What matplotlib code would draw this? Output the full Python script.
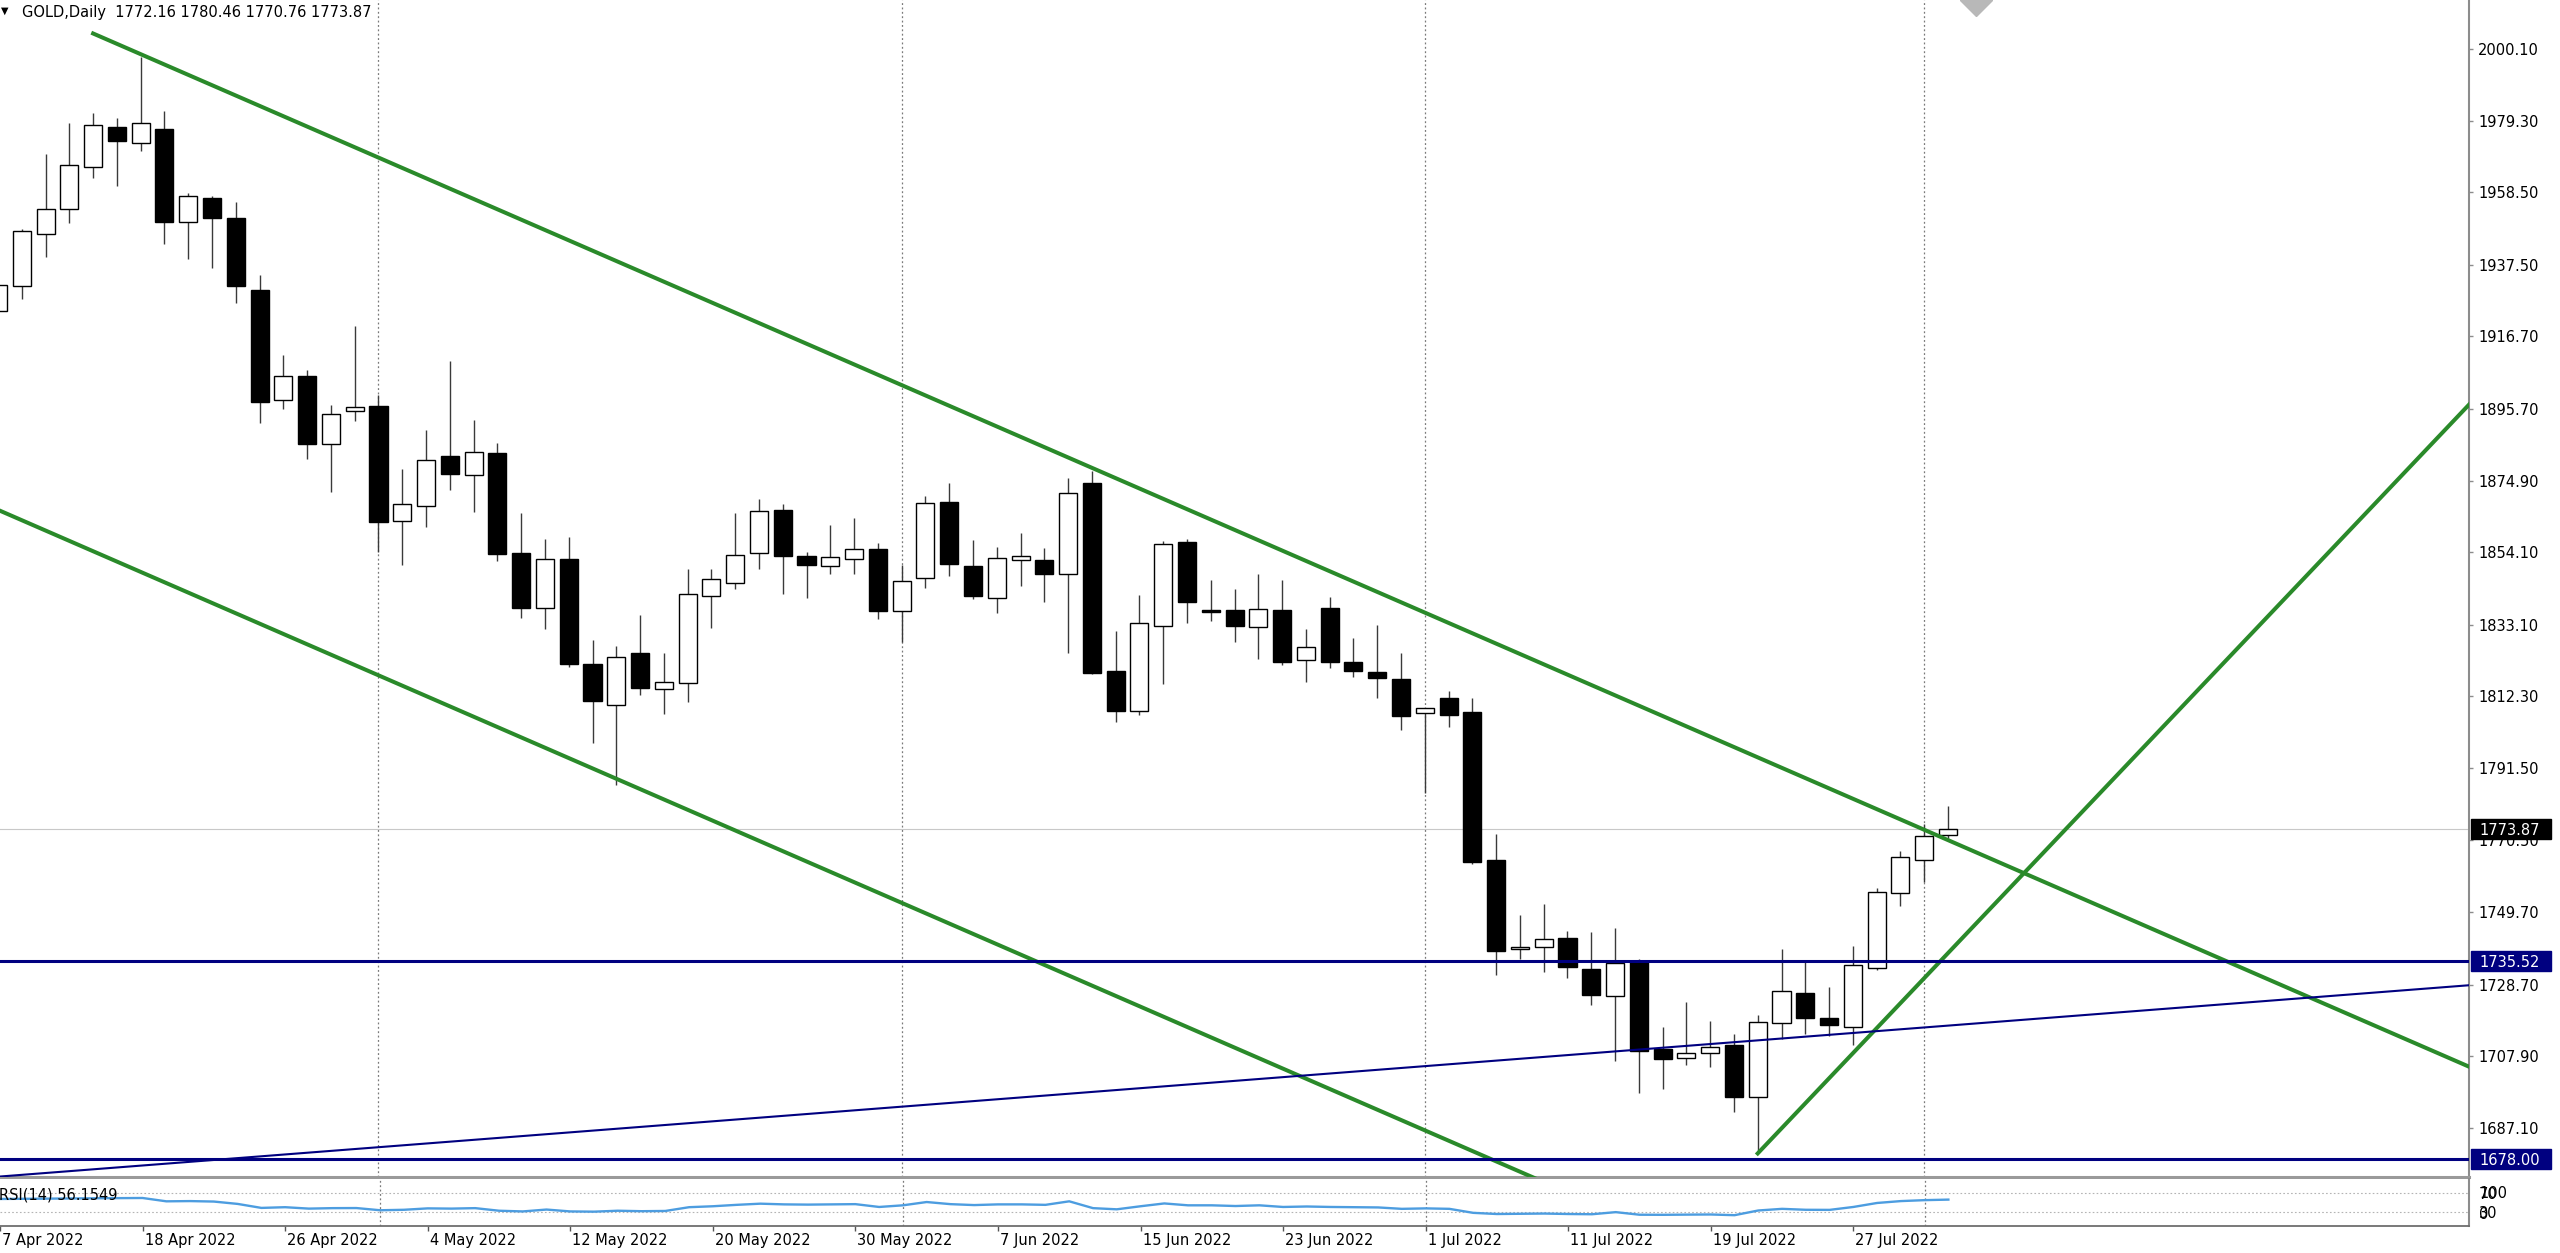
"""Daily GOLD candlestick chart with trend lines and an RSI(14) strip,
drawn to look like a MetaTrader 4 chart window."""

import matplotlib

matplotlib.use("Agg")
import matplotlib.pyplot as plt
import matplotlib.transforms as mtransforms
import numpy as np
import pandas as pd
from matplotlib.patches import Rectangle


SYMBOL = "GOLD"
PERIOD = "Daily"

# Trading days on the chart (weekdays, no bar on Good Friday).
DATES = pd.bdate_range("2022-04-07", "2022-08-02").drop(pd.Timestamp("2022-04-15"))

OPENS = [
    1924.2, 1931.4, 1946.4, 1953.6, 1965.8, 1977.4, 1972.8, 1977.0, 1950.0, 1957.0,
    1951.1, 1930.3, 1898.2, 1905.1, 1885.4, 1895.1, 1896.6, 1863.1, 1867.5, 1882.1,
    1876.5, 1883.0, 1853.8, 1838.0, 1852.2, 1821.7, 1809.8, 1824.8, 1814.4, 1816.3,
    1841.5, 1845.3, 1853.8, 1866.4, 1853.1, 1850.2, 1852.1, 1855.0, 1837.1, 1846.5,
    1868.8, 1850.1, 1840.7, 1852.0, 1852.0, 1847.7, 1874.1, 1819.7, 1808.0, 1832.8,
    1857.2, 1837.4, 1837.4, 1832.5, 1837.4, 1822.8, 1838.0, 1822.3, 1819.5, 1817.3,
    1807.4, 1811.7, 1807.7, 1764.8, 1738.9, 1739.7, 1742.1, 1733.1, 1725.4, 1735.3,
    1709.9, 1707.3, 1708.9, 1711.2, 1696.2, 1717.4, 1726.1, 1718.9, 1716.3, 1733.4,
    1755.3, 1764.8, 1772.16,
]
HIGHS = [
    1936.0, 1948.0, 1969.5, 1978.6, 1981.4, 1980.2, 1997.8, 1982.0, 1958.3, 1957.5,
    1955.6, 1934.5, 1911.2, 1907.1, 1896.7, 1919.7, 1899.6, 1878.2, 1889.6, 1909.6,
    1892.5, 1885.7, 1865.4, 1858.0, 1858.6, 1828.6, 1826.9, 1835.9, 1824.8, 1849.2,
    1849.2, 1865.4, 1869.5, 1868.1, 1854.3, 1862.0, 1863.9, 1856.9, 1850.4, 1870.4,
    1874.1, 1857.7, 1855.5, 1859.6, 1855.2, 1875.7, 1877.7, 1831.4, 1841.7, 1857.5,
    1858.0, 1846.1, 1843.3, 1847.7, 1846.1, 1831.7, 1841.0, 1829.3, 1833.0, 1825.0,
    1809.0, 1813.9, 1811.9, 1772.5, 1748.9, 1752.1, 1744.2, 1744.0, 1745.2, 1736.0,
    1716.3, 1723.7, 1718.2, 1714.3, 1720.0, 1738.9, 1735.8, 1728.1, 1740.0, 1756.8,
    1767.5, 1775.3, 1780.46,
]
LOWS = [
    1918.0, 1927.6, 1939.8, 1949.5, 1962.7, 1960.3, 1970.6, 1943.6, 1939.3, 1936.7,
    1926.4, 1891.5, 1895.6, 1881.2, 1871.7, 1892.3, 1854.2, 1850.3, 1861.3, 1872.2,
    1865.7, 1851.6, 1835.1, 1831.7, 1820.9, 1798.7, 1786.6, 1812.7, 1807.2, 1810.6,
    1832.2, 1843.4, 1849.2, 1841.9, 1840.7, 1847.8, 1847.8, 1834.6, 1828.0, 1843.8,
    1847.2, 1840.4, 1836.6, 1844.3, 1839.8, 1824.8, 1818.7, 1804.8, 1806.9, 1815.8,
    1833.7, 1834.2, 1828.2, 1823.0, 1821.5, 1816.6, 1820.4, 1818.0, 1811.7, 1802.4,
    1784.2, 1803.3, 1763.6, 1731.6, 1736.1, 1732.4, 1730.7, 1722.7, 1706.5, 1697.1,
    1698.3, 1705.3, 1704.9, 1691.8, 1679.7, 1712.8, 1714.2, 1713.7, 1711.1, 1733.0,
    1751.6, 1758.5, 1770.76,
]
CLOSES = [
    1931.5, 1947.2, 1953.6, 1966.5, 1978.0, 1973.3, 1978.6, 1950.0, 1957.5, 1951.1,
    1931.4, 1897.6, 1905.1, 1885.6, 1894.3, 1896.2, 1862.9, 1868.0, 1881.0, 1876.8,
    1883.3, 1853.5, 1838.0, 1852.2, 1821.6, 1811.0, 1823.8, 1814.6, 1816.4, 1841.9,
    1846.2, 1853.3, 1866.2, 1853.0, 1850.4, 1852.6, 1855.0, 1837.1, 1845.9, 1868.3,
    1850.6, 1841.4, 1852.3, 1853.1, 1847.8, 1871.2, 1819.0, 1808.0, 1833.5, 1856.5,
    1839.6, 1836.9, 1832.7, 1837.5, 1822.2, 1826.5, 1822.4, 1819.7, 1817.5, 1806.7,
    1808.8, 1806.8, 1764.1, 1738.4, 1739.7, 1741.8, 1733.7, 1725.6, 1735.0, 1709.5,
    1707.0, 1708.7, 1710.7, 1696.2, 1717.7, 1726.8, 1719.1, 1717.0, 1734.4, 1755.4,
    1765.6, 1771.9, 1773.87,
]

RSI_PERIOD = 14
RSI_VALUES = [
    57.5, 57.9, 58.2, 58.6, 59.0, 59.3, 59.6, 52.5, 53.0, 52.0,
    47.0, 38.5, 40.0, 37.0, 38.0, 38.2, 33.5, 34.5, 37.5, 37.0,
    38.0, 32.5, 31.0, 35.0, 31.0, 30.5, 32.5, 31.5, 32.0, 40.0,
    42.0, 45.0, 47.5, 46.0, 45.5, 46.0, 46.5, 40.5, 44.0, 51.0,
    46.5, 44.5, 46.0, 46.0, 45.0, 52.5, 38.0, 35.5, 42.0, 48.0,
    44.0, 44.0, 42.5, 44.0, 40.5, 41.5, 40.5, 40.0, 39.5, 36.5,
    37.5, 36.5, 28.0, 25.5, 26.0, 26.5, 25.5, 25.0, 29.5, 24.0,
    23.8, 24.2, 24.5, 23.0, 33.0, 36.5, 34.5, 34.3, 40.5, 49.0,
    53.0, 55.0, 56.1549,
]
RSI_LEVELS = [30, 70]

PRICE_TICKS = [
    2000.10, 1979.30, 1958.50, 1937.50, 1916.70, 1895.70, 1874.90, 1854.10,
    1833.10, 1812.30, 1791.50, 1770.50, 1749.70, 1728.70, 1707.90, 1687.10,
]
SUPPORT_LEVELS = [1735.52, 1678.00]

# Trend lines, each given by two (bar index, price) anchors.
CHANNEL_UPPER = [(4, 2004.6), (46, 1878.6)]
CHANNEL_LOWER = [(0, 1866.4), (26, 1788.4)]
RISING_TREND = [(74, 1679.7), (82, 1737.8)]
RISING_BASE = [(0, 1672.95), (74, 1712.5)]

# Window geometry in output pixels.
FIG_W, FIG_H = 2560, 1253
PLOT_RIGHT = 2469
MAIN_BOTTOM = 1177
RSI_TOP, RSI_BOTTOM = 1179, 1226
BAR_PX = 23.78
FIRST_BAR_PX = -2
PRICE_REF, PRICE_REF_PX, PX_PER_USD = 2000.1, 49, 3.447

GREEN = "#2a8a2a"
NAVY = "#000080"
AXIS_GRAY = "#8c8c8c"
FONT_SIZE = 10.5


def box(left, top, right, bottom):
    """Figure-fraction rect from pixel edges measured from the top-left."""
    return [left / FIG_W, 1 - bottom / FIG_H, (right - left) / FIG_W, (bottom - top) / FIG_H]


def line_through(anchors, x_from, x_to):
    (xa, ya), (xb, yb) = anchors
    slope = (yb - ya) / (xb - xa)
    xs = np.array([x_from, x_to])
    return xs, ya + slope * (xs - xa)


def main() -> None:
    opens, highs, lows, closes = map(np.asarray, (OPENS, HIGHS, LOWS, CLOSES))
    bars = np.arange(len(closes))

    x_min = (0 - FIRST_BAR_PX) / BAR_PX
    x_max = (PLOT_RIGHT - FIRST_BAR_PX) / BAR_PX
    y_min = PRICE_REF - (MAIN_BOTTOM - PRICE_REF_PX) / PX_PER_USD
    y_max = PRICE_REF + PRICE_REF_PX / PX_PER_USD

    fig = plt.figure(figsize=(FIG_W / 100, FIG_H / 100), dpi=100)
    ax = fig.add_axes(box(0, 0, PLOT_RIGHT, MAIN_BOTTOM))
    ax_rsi = fig.add_axes(box(0, RSI_TOP, PLOT_RIGHT, RSI_BOTTOM))

    # candles
    up = closes >= opens
    ax.vlines(bars, lows, highs, color="#3a3a3a", linewidth=1.0, zorder=2)
    ax.bar(
        bars,
        np.maximum(np.abs(closes - opens), 0.5),
        bottom=np.minimum(opens, closes),
        width=0.76,
        color=np.where(up, "white", "black"),
        edgecolor="black",
        linewidth=1.0,
        zorder=3,
    )

    # bid line
    ax.axhline(closes[-1], color="#c8c8c8", linewidth=0.8, zorder=1)

    # month separators
    month_starts = [i for i in range(1, len(DATES)) if DATES[i].month != DATES[i - 1].month]
    for axis in (ax, ax_rsi):
        for i in month_starts:
            axis.axvline(i, color="#7a7a7a", linewidth=0.9, linestyle=(0, (1.5, 2.0)), zorder=1)

    # drawn objects
    ax.plot(*line_through(CHANNEL_UPPER, CHANNEL_UPPER[0][0], x_max), color=GREEN, linewidth=2.9, zorder=4)
    ax.plot(*line_through(CHANNEL_LOWER, x_min - 1, x_max), color=GREEN, linewidth=2.9, zorder=4)
    ax.plot(*line_through(RISING_TREND, RISING_TREND[0][0], x_max), color=GREEN, linewidth=2.9, zorder=4)
    ax.plot(*line_through(RISING_BASE, x_min - 1, x_max), color=NAVY, linewidth=1.5, zorder=4)
    for level in SUPPORT_LEVELS:
        ax.axhline(level, color=NAVY, linewidth=2.2, zorder=4)

    ax.set_xlim(x_min, x_max)
    ax.set_ylim(y_min, y_max)
    ax.set_xticks([])
    ax.yaxis.tick_right()
    ax.set_yticks(PRICE_TICKS)
    ax.set_yticklabels([f"{p:.2f}" for p in PRICE_TICKS])
    ax.tick_params(axis="y", length=3, width=1, color=AXIS_GRAY, pad=3.6, labelsize=FONT_SIZE)
    for side in ("top", "left"):
        ax.spines[side].set_visible(False)
    ax.spines["right"].set_color(AXIS_GRAY)
    ax.spines["right"].set_linewidth(1.5)
    ax.spines["bottom"].set_color("#9a9a9a")
    ax.spines["bottom"].set_linewidth(2.2)

    # price boxes on the scale
    scale = mtransforms.blended_transform_factory(fig.transFigure, ax.transData)
    box_h = 20 / PX_PER_USD
    for price, face in [(closes[-1], "black")] + [(lvl, NAVY) for lvl in SUPPORT_LEVELS]:
        ax.add_patch(Rectangle(
            ((PLOT_RIGHT + 2) / FIG_W, price - box_h / 2), 80 / FIG_W, box_h,
            transform=scale, facecolor=face, edgecolor=face, clip_on=False, zorder=10,
        ))
        ax.text((PLOT_RIGHT + 10) / FIG_W, price, f"{price:.2f}", transform=scale,
                color="white", fontsize=FONT_SIZE, ha="left", va="center_baseline",
                clip_on=False, zorder=11)

    # chart-shift marker at the top
    ax.plot([83.2], [y_max], marker="D", markersize=16, color="#b8b8b8",
            transform=ax.transData, clip_on=True, zorder=5)

    # RSI strip
    ax_rsi.plot(bars, RSI_VALUES, color="#4d9de0", linewidth=1.7, zorder=3)
    for level in RSI_LEVELS:
        ax_rsi.axhline(level, color="#b4b4b4", linewidth=0.8, linestyle=(0, (1.5, 2.0)), zorder=1)
    ax_rsi.set_xlim(x_min, x_max)
    ax_rsi.set_ylim(0, 100)
    ax_rsi.set_yticks([])
    for side in ("top", "left"):
        ax_rsi.spines[side].set_visible(False)
    ax_rsi.spines["right"].set_color(AXIS_GRAY)
    ax_rsi.spines["right"].set_linewidth(1.5)
    ax_rsi.spines["bottom"].set_color("#6e6e6e")
    ax_rsi.spines["bottom"].set_linewidth(1.3)

    rsi_scale = mtransforms.blended_transform_factory(fig.transFigure, ax_rsi.transData)
    for text, value in (("100", 73), ("70", 70), ("30", 30), ("0", 28)):
        ax_rsi.text((PLOT_RIGHT + 10) / FIG_W, value, text, transform=rsi_scale,
                    fontsize=FONT_SIZE, ha="left", va="center_baseline", clip_on=False)

    date_ticks = list(range(0, len(DATES), 6))
    ax_rsi.set_xticks(date_ticks)
    ax_rsi.set_xticklabels([f"{DATES[i].day} {DATES[i]:%b %Y}" for i in date_ticks], ha="left")
    ax_rsi.tick_params(axis="x", length=3.5, width=1, color="#555555", pad=1.5, labelsize=FONT_SIZE)
    shift = mtransforms.ScaledTranslation(2 / 100, 0, fig.dpi_scale_trans)
    for label in ax_rsi.get_xticklabels():
        label.set_transform(label.get_transform() + shift)

    fig.text(-1 / FIG_W, 1 - 1195 / FIG_H, f"RSI({RSI_PERIOD}) {RSI_VALUES[-1]:.4f}",
             fontsize=FONT_SIZE, ha="left", va="center")

    # window header
    fig.text(1 / FIG_W, 1 - 11 / FIG_H, "\u25bc", fontsize=7, ha="left", va="center")
    header = (f"{SYMBOL},{PERIOD}  {opens[-1]:.2f} {highs[-1]:.2f} "
              f"{lows[-1]:.2f} {closes[-1]:.2f}")
    fig.text(22 / FIG_W, 1 - 12 / FIG_H, header, fontsize=FONT_SIZE, ha="left", va="center")

    fig.savefig("out.png", dpi=100)
    plt.close(fig)


if __name__ == "__main__":
    main()
